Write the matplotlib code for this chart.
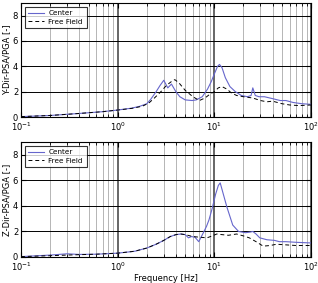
import numpy as np
import matplotlib
matplotlib.use('Agg')
import matplotlib.pyplot as plt

# Y-Dir
fy_c = [0.1, 0.2, 0.4, 0.7, 1.0, 1.4, 1.7, 2.0, 2.2, 2.5, 2.75, 3.0, 3.3, 3.6, 4.0, 4.4, 5.0, 5.9, 6.5, 7.5,
        8.5, 9.3, 10.0, 10.8, 11.3, 12.0, 13.0, 14.5, 16.5, 19.0, 22.0, 24.0, 25.0, 26.5, 29.0, 33.0,
        40.0, 48.0, 55.0, 65.0, 80.0, 100.0]
y_c = [0.03, 0.12, 0.28, 0.42, 0.55, 0.7, 0.85, 1.05, 1.4, 2.0, 2.5, 2.9, 2.3, 2.6, 2.0, 1.6, 1.35, 1.3, 1.35, 1.6,
       2.2, 2.8, 3.4, 4.0, 4.15, 3.9, 3.1, 2.4, 2.0, 1.7, 1.6, 1.7, 2.3, 1.7, 1.6, 1.6,
       1.45, 1.3, 1.3, 1.15, 1.05, 1.0]
fy_f = [0.1, 0.2, 0.4, 0.7, 1.0, 1.4, 1.8, 2.1, 2.4, 2.8, 3.2, 3.6, 3.9, 4.3, 5.0, 6.0, 7.0, 8.0, 9.0, 10.0,
        11.0, 12.0, 13.5, 15.0, 17.0, 20.0, 25.0, 30.0, 35.0, 40.0, 50.0, 60.0, 75.0, 100.0]
y_f = [0.03, 0.12, 0.28, 0.42, 0.55, 0.68, 0.85, 1.1, 1.5, 2.0, 2.5, 2.8, 2.95, 2.7, 2.1, 1.6, 1.3, 1.5, 1.8, 2.0,
       2.3, 2.4, 2.2, 1.9, 1.7, 1.6, 1.5, 1.3, 1.2, 1.25, 1.05, 0.95, 0.9, 0.95]

# Z-Dir
fz_c = [0.1, 0.2, 0.3, 0.4, 0.6, 1.0, 1.5, 2.0, 2.5, 3.0, 3.5, 4.0, 4.5, 5.0, 5.4, 5.8, 6.3, 6.9, 7.7, 8.3,
        8.8, 9.5, 10.3, 11.0, 11.5, 12.3, 13.5, 15.5, 17.8, 21.0, 23.5, 25.0, 27.0, 29.5, 35.0, 42.0,
        47.0, 55.0, 70.0, 100.0]
z_c = [0.03, 0.15, 0.25, 0.2, 0.22, 0.3, 0.45, 0.7, 1.0, 1.3, 1.6, 1.75, 1.8, 1.75, 1.5, 1.6, 1.55, 1.2, 1.9, 2.4,
       2.9, 3.8, 4.9, 5.6, 5.8, 5.0, 3.9, 2.5, 2.0, 1.9, 1.95, 2.0, 1.8, 1.5, 1.35, 1.3,
       1.2, 1.2, 1.15, 1.1]
fz_f = [0.1, 0.2, 0.3, 0.4, 0.6, 1.0, 1.5, 2.0, 2.5, 3.0, 3.5, 4.0, 4.5, 5.0, 6.0, 7.0, 8.4, 9.5, 10.6,
        12.0, 14.0, 17.0, 20.0, 23.0, 27.0, 32.0, 38.0, 44.0, 55.0, 70.0, 100.0]
z_f = [0.03, 0.1, 0.15, 0.18, 0.22, 0.3, 0.45, 0.7, 1.0, 1.3, 1.6, 1.75, 1.8, 1.75, 1.6, 1.55, 1.5, 1.65, 1.8,
       1.75, 1.7, 1.8, 1.65, 1.5, 1.2, 0.85, 0.9, 1.0, 0.95, 0.9, 0.9]

ylabels = ['Y-Dir-PSA/PGA [-]', 'Z-Dir-PSA/PGA [-]']
blue = '#6666cc'

plt.rcParams['font.size'] = 6
fig = plt.figure(figsize=(3.18, 2.83), dpi=100)
ax1 = fig.add_axes([21 / 318, 1 - 117 / 283, 290 / 318, 114 / 283])
ax2 = fig.add_axes([21 / 318, 1 - 257 / 283, 290 / 318, 115 / 283])

data = [(fy_c, y_c, fy_f, y_f), (fz_c, z_c, fz_f, z_f)]
for ax, (fc, vc, ff, vf), lab in zip([ax1, ax2], data, ylabels):
    ax.set_xscale('log')
    ax.set_xlim(0.1, 100)
    ax.set_ylim(0, 9)
    ax.set_yticks([0, 2, 4, 6, 8])
    ax.grid(True, which='minor', axis='x', color='#aaaaaa', lw=0.6)
    ax.grid(True, which='major', axis='x', color='#666666', lw=1.4)
    ax.grid(True, which='major', axis='y', color='black', lw=0.7)
    ax.plot(fc, vc, color=blue, lw=0.8, label='Center')
    ax.plot(ff, vf, color='black', ls='--', dashes=(4, 3), lw=0.7, label='Free Field')
    ax.set_ylabel(lab, labelpad=1)
    ax.tick_params(which='both', direction='in', top=True, right=True, pad=2)
    ax.tick_params(axis='x', which='both', pad=2.5)
    leg = ax.legend(loc='upper left', fancybox=False, edgecolor='black', fontsize=5.2,
                    handlelength=2.2, borderaxespad=0.5, borderpad=0.5, labelspacing=0.35,
                    handletextpad=0.6)
    leg.get_frame().set_linewidth(0.8)
    for s in ax.spines.values():
        s.set_linewidth(0.8)

ax2.set_xlabel('Frequency [Hz]', labelpad=0.5)

fig.savefig('out.png', dpi=100)
